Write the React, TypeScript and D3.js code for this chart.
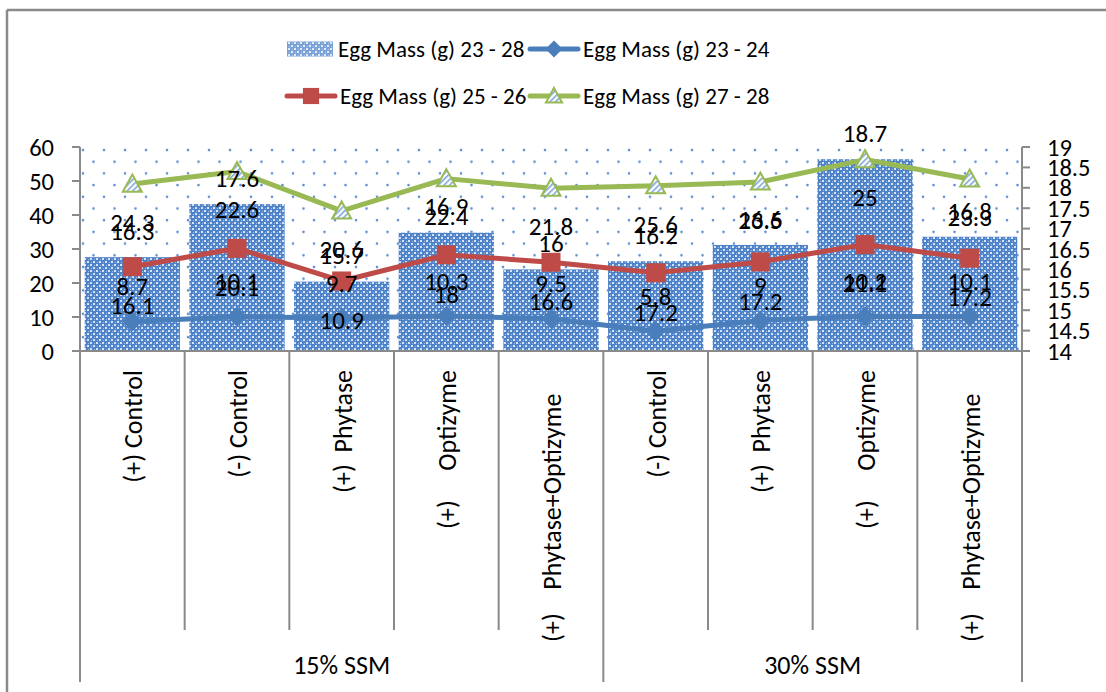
import React from "react";
import * as d3 from "d3";

const categories = [
  "(+) Control",
  "(-) Control",
  "(+)  Phytase",
  "(+)     Optizyme",
  "(+)    Phytase+Optizyme    ",
  "(-) Control",
  "(+)  Phytase",
  "(+)     Optizyme",
  "(+)    Phytase+Optizyme    ",
];
const groups = [
  { name: "15% SSM", start: 0, end: 5 },
  { name: "30% SSM", start: 5, end: 9 },
];
const seriesNames = [
  "Egg Mass (g) 23 - 28",
  "Egg Mass (g) 23 - 24",
  "Egg Mass (g) 25 - 26",
  "Egg Mass (g) 27 - 28",
];
const mass2328 = [16.3, 17.6, 15.7, 16.9, 16, 16.2, 16.6, 18.7, 16.8];
const mass2324 = [8.7, 10.1, 9.7, 10.3, 9.5, 5.8, 9, 10.2, 10.1];
const mass2526 = [16.1, 20.1, 10.9, 18, 16.6, 17.2, 17.2, 21.1, 17.2];
const mass2728 = [24.3, 22.6, 20.6, 22.4, 21.8, 25.6, 23.5, 25, 23.3];
const leftTicks = [0, 10, 20, 30, 40, 50, 60];
const rightTicks = [14, 14.5, 15, 15.5, 16, 16.5, 17, 17.5, 18, 18.5, 19];

const W = 1106;
const H = 692;
const PL = 80, PR = 1022, PT = 147, PB = 351;
const FONT = "Carlito, Calibri, Lato, sans-serif";
const FS_LEGEND = 23;
const FS_TICK = 24.5;
const FS_LABEL = 25;
const FS_CAT = 26;
const BLUE = "#4A7EBB";
const RED = "#BE4B48";
const GREEN = "#98B954";
const AXIS = "#8A8A8A";

export default function App() {
  const x = d3.scaleBand<number>().domain(categories.map((_, i) => i)).range([PL, PR]).padding(0);
  const yL = d3.scaleLinear().domain([0, 60]).range([PB, PT]);
  const yR = d3.scaleLinear().domain([14, 19]).range([PB, PT]);
  const bw = x.bandwidth() * 0.91;
  const cx = (i: number) => (x(i) as number) + x.bandwidth() / 2;

  const table = categories.map((_, i) => ({ a: mass2324[i], b: mass2526[i], c: mass2728[i] }));
  const stacked = d3.stack<any>().keys(["a", "b", "c"])(table);
  const lineGen = d3.line<number>().x((_, i) => cx(i)).y((v) => yL(v));
  const tops = stacked.map((s) => s.map((d) => d[1]));
  const lineColors = [BLUE, RED, GREEN];
  const rawVals = [mass2324, mass2526, mass2728];
  const labelOffsets = [-35, 39, 38];

  const diamond = (px: number, py: number, r: number) =>
    `M${px},${py - r}L${px + r},${py}L${px},${py + r}L${px - r},${py}Z`;
  const tri = (px: number, py: number, r: number) =>
    `M${px},${py - r}L${px + r},${py + r * 0.8}L${px - r},${py + r * 0.8}Z`;

  const marker = (k: number, px: number, py: number, s = 1) => {
    if (k === 0) return <path d={diamond(px, py, 10 * s)} fill={BLUE} />;
    if (k === 1) return <rect x={px - 9.5 * s} y={py - 9.5 * s} width={19 * s} height={19 * s} fill={RED} />;
    return <path d={tri(px, py, 9.5 * s)} fill="url(#hatch)" stroke={GREEN} strokeWidth={2} />;
  };

  const legendItems = [
    { kind: -1, x: 287, y: 49, name: seriesNames[0] },
    { kind: 0, x: 530, y: 49, name: seriesNames[1] },
    { kind: 1, x: 287, y: 96, name: seriesNames[2] },
    { kind: 2, x: 530, y: 96, name: seriesNames[3] },
  ];

  return (
    <svg width={W} height={H} style={{ position: "absolute", left: 0, top: 0, background: "#fff" }} fontFamily={FONT}>
      <defs>
        <pattern id="dots" patternUnits="userSpaceOnUse" x={PL} y={PT} width={21} height={23.4}>
          <circle cx={3} cy={3} r={1.3} fill="#5D8FD2" />
          <circle cx={13.5} cy={14.7} r={1.3} fill="#5D8FD2" />
        </pattern>
        <pattern id="barpat" patternUnits="userSpaceOnUse" width={6} height={6}>
          <rect width={6} height={6} fill="#4F83C9" />
          <rect x={0} y={0} width={2} height={2} fill="#D6E3F4" />
          <rect x={3} y={3} width={2} height={2} fill="#D6E3F4" />
          <rect x={1} y={4} width={1} height={1} fill="#9DBBE4" />
          <rect x={4} y={1} width={1} height={1} fill="#9DBBE4" />
        </pattern>
        <pattern id="hatch" patternUnits="userSpaceOnUse" width={4} height={4} patternTransform="rotate(45)">
          <rect width={4} height={4} fill="#fff" />
          <rect width={1.6} height={4} fill="#7FA6DA" />
        </pattern>
      </defs>

      {/* outer border (partially visible) */}
      <line x1={7} y1={10} x2={W} y2={10} stroke={AXIS} strokeWidth={2.5} />
      <line x1={7} y1={10} x2={7} y2={H} stroke={AXIS} strokeWidth={2.5} />

      {/* plot area dotted fill */}
      <rect x={PL} y={PT} width={PR - PL} height={PB - PT} fill="url(#dots)" />

      {/* bars on right axis */}
      {mass2328.map((v, i) => (
        <rect key={"b" + i} x={cx(i) - bw / 2} y={yR(v)} width={bw} height={PB - yR(v)} fill="url(#barpat)" />
      ))}

      {/* stacked lines */}
      {tops.map((vals, k) => (
        <path key={"l" + k} d={lineGen(vals) as string} fill="none" stroke={lineColors[k]} strokeWidth={5} strokeLinejoin="round" strokeLinecap="round" />
      ))}
      {tops.map((vals, k) => (
        <g key={"m" + k}>{vals.map((v, i) => <g key={i}>{marker(k, cx(i), yL(v))}</g>)}</g>
      ))}

      {/* axes */}
      <line x1={PL} y1={PT} x2={PL} y2={PB} stroke={AXIS} strokeWidth={2} />
      {leftTicks.map((t) => (
        <g key={"lt" + t}>
          <line x1={PL - 8} x2={PL} y1={yL(t)} y2={yL(t)} stroke={AXIS} strokeWidth={2} />
          <text x={54} y={yL(t)} dy="0.35em" textAnchor="end" fontSize={FS_TICK}>{t}</text>
        </g>
      ))}
      <line x1={PR} y1={PT} x2={PR} y2={PB} stroke={AXIS} strokeWidth={2} />
      {rightTicks.map((t) => (
        <g key={"rt" + t}>
          <line x1={PR} x2={PR + 8} y1={yR(t)} y2={yR(t)} stroke={AXIS} strokeWidth={2} />
          <text x={1047} y={yR(t)} dy="0.35em" textAnchor="start" fontSize={FS_TICK}>{t}</text>
        </g>
      ))}

      {/* category axis */}
      <line x1={PL} y1={PB} x2={PR} y2={PB} stroke={AXIS} strokeWidth={2} />
      {categories.map((_, i) => (
        <line key={"sep" + i} x1={x(i) as number} x2={x(i) as number} y1={PB} y2={groups.some((g) => g.start === i) ? 682 : 630} stroke={AXIS} strokeWidth={2} />
      ))}
      <line x1={PR} x2={PR} y1={PB} y2={682} stroke={AXIS} strokeWidth={2} />
      {categories.map((c, i) => (
        <text key={"cl" + i} transform={`translate(${cx(i) + 1},370) rotate(-90)`} textAnchor="end" dy="0.35em" fontSize={FS_CAT} xmlSpace="preserve" style={{ whiteSpace: "pre" }}>{c}</text>
      ))}
      {groups.map((g) => (
        <text key={g.name} x={((x(g.start) as number) + (g.end < categories.length ? (x(g.end) as number) : PR)) / 2} y={665} dy="0.35em" textAnchor="middle" fontSize={FS_CAT}>{g.name}</text>
      ))}

      {/* data labels */}
      {mass2328.map((v, i) => (
        <text key={"bl" + i} x={cx(i)} y={yR(v) - 26} dy="0.35em" textAnchor="middle" fontSize={FS_LABEL}>{String(v)}</text>
      ))}
      {tops.map((vals, k) =>
        vals.map((v, i) => (
          <text key={"dl" + k + "_" + i} x={cx(i)} y={yL(v) + labelOffsets[k]} dy="0.35em" textAnchor="middle" fontSize={FS_LABEL}>{String(rawVals[k][i])}</text>
        ))
      )}

      {/* legend */}
      {legendItems.map((it) => (
        <g key={it.name}>
          {it.kind === -1 ? (
            <rect x={it.x} y={it.y - 7.5} width={46} height={15} fill="url(#barpat)" opacity={0.75} />
          ) : (
            <>
              <line x1={it.x} x2={it.x + 48} y1={it.y} y2={it.y} stroke={lineColors[it.kind]} strokeWidth={5} strokeLinecap="round" />
              {marker(it.kind, it.x + 24, it.y, 0.85)}
            </>
          )}
          <text x={it.x + (it.kind === -1 ? 51 : 53)} y={it.y} dy="0.35em" fontSize={FS_LEGEND}>{it.name}</text>
        </g>
      ))}
    </svg>
  );
}
